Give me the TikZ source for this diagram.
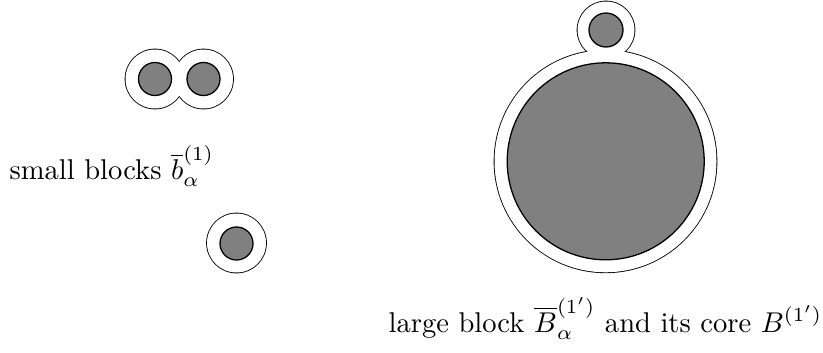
\documentclass[tikz,border=0pt]{standalone}
\usetikzlibrary{positioning}
\begin{document}
\begin{tikzpicture}[
		x=0.0123cm, y=-0.0123cm,
		halo/.style={draw=black, line width=0.6pt},
		halofill/.style={fill=white},
		core/.style={draw=black, fill=black!50, line width=0.45pt},
		blocklabel/.style={anchor=base west, inner sep=0pt}
	]
		\useasboundingbox (0,0) rectangle (823,352);
		\def\rhalo{29.5}
		\def\rcore{16.5}
		% halos: thick outline first, white fill on top leaves the outer half
		\foreach \cx/\cy/\rh in {155/79/\rhalo, 203.5/79/\rhalo, 236.5/243/\rhalo, 606/30/28.5, 605.5/161.3/111} {
			\draw[halo] (\cx,\cy) circle[radius=\rh];
		}
		\foreach \cx/\cy/\rh in {155/79/\rhalo, 203.5/79/\rhalo, 236.5/243/\rhalo, 606/30/28.5, 605.5/161.3/111} {
			\fill[halofill] (\cx,\cy) circle[radius=\rh];
		}
		% cores
		\foreach \cx/\cy/\rc in {155/79/\rcore, 203.5/79/\rcore, 236.5/243.5/\rcore, 606/30/17, 605.7/161.3/98.5} {
			\draw[core] (\cx,\cy) circle[radius=\rc];
		}
		\node[blocklabel] (small) at (9,179) {small blocks $\overline{b}_\alpha^{(1)}$};
		\node[blocklabel] (large) at (388,332) {large block $\overline{B}_\alpha^{(1')}$ and its core $B^{(1')}$};
	\end{tikzpicture}
\end{document}
